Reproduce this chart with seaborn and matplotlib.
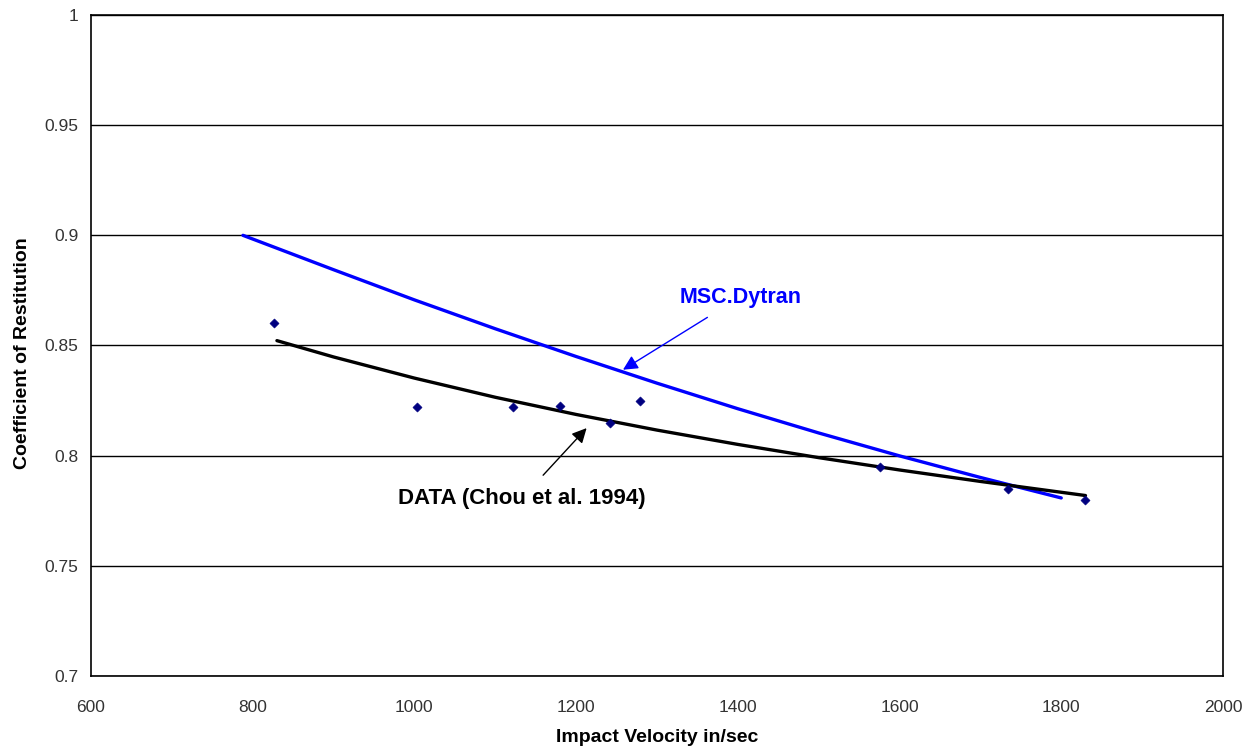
import matplotlib
matplotlib.use("Agg")
import matplotlib.pyplot as plt
import seaborn as sns
import pandas as pd

# measured points (Chou et al. 1994)
data_vel = [826, 1003, 1122, 1180, 1242, 1279, 1576, 1734, 1830]
data_cor = [0.860, 0.822, 0.822, 0.8225, 0.815, 0.825, 0.795, 0.785, 0.780]

trend_vel = [830, 900, 1000, 1100, 1200, 1300, 1400, 1500, 1600, 1700, 1830]
trend_cor = [0.8522, 0.8448, 0.8352, 0.8265, 0.8187, 0.8116, 0.8051, 0.7991, 0.7935, 0.7883, 0.7819]

# MSC.Dytran simulation curve
dytran_vel = [788, 900, 1000, 1100, 1200, 1300, 1400, 1500, 1600, 1700, 1800]
dytran_cor = [0.900, 0.8844, 0.8707, 0.8576, 0.8450, 0.8329, 0.8213, 0.8103, 0.7999, 0.7901, 0.7808]

x_ticks = [600, 800, 1000, 1200, 1400, 1600, 1800, 2000]
y_ticks = [0.7, 0.75, 0.8, 0.85, 0.9, 0.95, 1.0]
y_labels = ["0.7", "0.75", "0.8", "0.85", "0.9", "0.95", "1"]

sns.set_style("white")
plt.rcParams["font.family"] = ["Liberation Sans", "DejaVu Sans"]

df_data = pd.DataFrame({"vel": data_vel, "cor": data_cor})
df_trend = pd.DataFrame({"vel": trend_vel, "cor": trend_cor})
df_dyt = pd.DataFrame({"vel": dytran_vel, "cor": dytran_cor})

fig = plt.figure(figsize=(12.46, 7.5), dpi=100)
ax = fig.add_axes([0.073, 0.0987, 0.9085, 0.8813])

sns.lineplot(data=df_dyt, x="vel", y="cor", color="#0000ff", lw=2.4, ax=ax, zorder=3)
sns.lineplot(data=df_trend, x="vel", y="cor", color="black", lw=2.4, ax=ax, zorder=4)
sns.scatterplot(data=df_data, x="vel", y="cor", marker="D", s=22, color="#000080",
                edgecolor="#000080", ax=ax, zorder=5)

ax.set_xlim(600, 2000)
ax.set_ylim(0.7, 1.0)
ax.set_xticks(x_ticks)
ax.set_yticks(y_ticks)
ax.set_yticklabels(y_labels)
ax.tick_params(axis="both", direction="out", length=6, width=1, color="black",
               labelsize=12.5, labelcolor="#333333")
ax.tick_params(axis="x", pad=11)
ax.tick_params(axis="y", pad=3)
ax.yaxis.grid(True, color="black", lw=1)
ax.xaxis.grid(False)
for s in ax.spines.values():
    s.set_color("black")
    s.set_linewidth(1.2)

ax.set_xlabel("")
ax.set_ylabel("")
fig.text(657 / 1246, 1 - 738 / 750, "Impact Velocity in/sec", ha="center", va="center",
         fontsize=14, fontweight="bold", color="black")
fig.text(23 / 1246, 1 - 353 / 750, "Coefficient of Restitution", ha="center", va="center",
         rotation=90, fontsize=14, fontweight="bold", color="black")

ax.annotate("MSC.Dytran", xy=(1258, 0.839), xytext=(1403, 0.872), ha="center", va="center",
            color="#0000ff", fontsize=15.5, fontweight="bold",
            arrowprops=dict(arrowstyle="-|>", color="#0000ff", lw=1, mutation_scale=22,
                            shrinkA=9, shrinkB=0))
ax.annotate("DATA (Chou et al. 1994)", xy=(1213, 0.8125), xytext=(1133, 0.7807), ha="center",
            va="center", color="black", fontsize=16, fontweight="bold",
            arrowprops=dict(arrowstyle="-|>", color="black", lw=1, mutation_scale=22,
                            shrinkA=9, shrinkB=0))

fig.savefig("out.png", dpi=100)
